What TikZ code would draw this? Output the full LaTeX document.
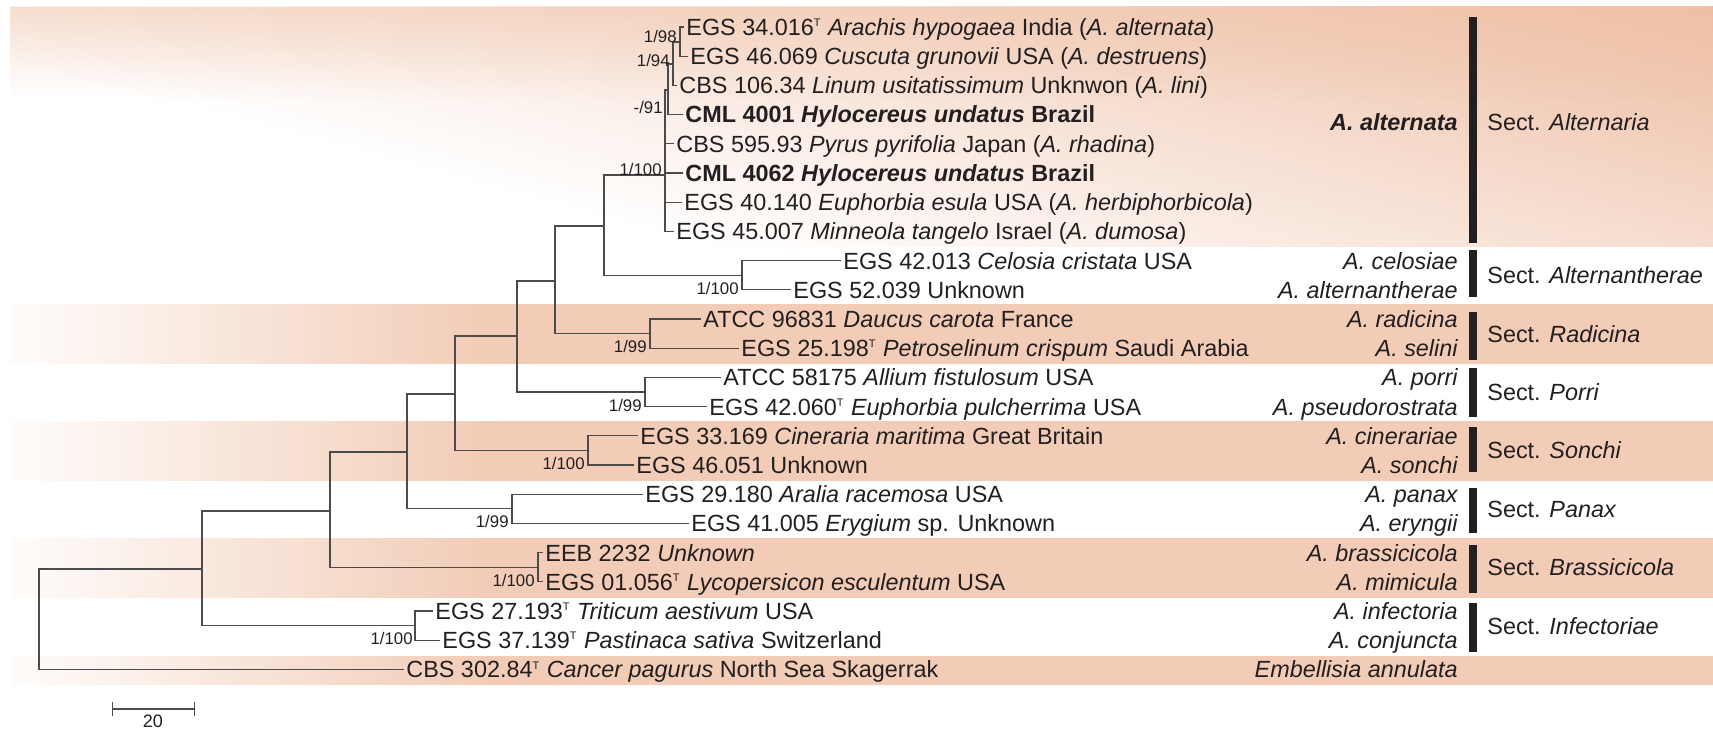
\documentclass[tikz,border=0pt]{standalone}
\usepackage{fontspec}
\setmainfont{Liberation Sans}
\usetikzlibrary{fadings}

\definecolor{peach}{RGB}{240,196,170}
\definecolor{peachdeep}{RGB}{238,189,162}
\definecolor{bandpeach}{RGB}{242,204,182}
\definecolor{treegray}{RGB}{75,75,75}
\definecolor{inkdark}{RGB}{35,31,32}
\tikzfading[name=topfade, top color=transparent!0, bottom color=transparent!100]
\pgfdeclarehorizontalshading{bandfade}{100bp}{color(0bp)=(bandpeach!5!white); color(25bp)=(bandpeach!5!white); color(39bp)=(bandpeach); color(100bp)=(bandpeach)}
\newcommand{\tstrain}{\textsuperscript{\fontsize{5.5}{6}\selectfont T}}

\begin{document}
\begin{tikzpicture}[
    x=0.5pt, y=-0.5pt,
    leaf/.style={anchor=west, inner sep=1pt, text=inkdark, font=\fontsize{11.7}{13}\selectfont, text height=8.4pt, text depth=0pt},
    boot/.style={anchor=east, inner sep=0pt, text=inkdark, font=\fontsize{8.4}{9}\selectfont},
    spname/.style={anchor=east, inner sep=0pt, text=inkdark, font=\fontsize{11.7}{13}\selectfont\itshape, text height=8.4pt, text depth=0pt},
    sectname/.style={anchor=west, inner sep=0pt, text=inkdark, font=\fontsize{11.7}{13}\selectfont, text height=8.4pt, text depth=0pt},
    branch/.style={draw=treegray, line width=0.65pt},
    sectbar/.style={draw=inkdark, line width=4.3pt},
    bandtone/.style={shading=bandfade}
]
    \useasboundingbox (0,0) rectangle (1713,733);

    % background bands
    \begin{scope}
        \clip (11,7) rectangle (1713,246);
        \begin{scope}[transform canvas={rotate around={-15:(11,246)}}]
            \shade[top color=peachdeep, bottom color=white] (-70,66) rectangle (1690,-429);
        \end{scope}
    \end{scope}
    \fill[peach, fill opacity=0.5, path fading=topfade] (11,7) rectangle (1713,100);
    \shade[bandtone] (11,304) rectangle (1713,363);
    \shade[bandtone] (11,421) rectangle (1713,480);
    \shade[bandtone] (11,538) rectangle (1713,597);
    \shade[bandtone] (11,656) rectangle (1713,684);

    % inner nodes of the tree
    \coordinate (root) at (39,619);
    \coordinate (nB) at (202,569);
    \coordinate (nInf) at (415,625.6);
    \coordinate (nC) at (330,511);
    \coordinate (nBra) at (538,567.2);
    \coordinate (nD) at (407,452);
    \coordinate (nPan) at (512,508.8);
    \coordinate (nE) at (455,394);
    \coordinate (nSon) at (588,450.4);
    \coordinate (nF) at (517,336);
    \coordinate (nPor) at (645,392);
    \coordinate (nG) at (555,281);
    \coordinate (nRad) at (650,333.6);
    \coordinate (nH) at (604,226);
    \coordinate (nAlh) at (742,275.2);
    \coordinate (nAlt) at (665,175);
    \coordinate (n91) at (668,90);
    \coordinate (n94) at (673,64);
    \coordinate (n98) at (680,42);

    % strains
    \node[leaf] (alt1) at (684,27) {EGS 34.016\tstrain\ \textit{Arachis hypogaea} India (\textit{A. alternata})};
    \node[leaf] (alt2) at (688,56.2) {EGS 46.069 \textit{Cuscuta grunovii} USA (\textit{A. destruens})};
    \node[leaf] (alt3) at (677,85.4) {CBS 106.34 \textit{Linum usitatissimum} Unknwon (\textit{A. lini})};
    \node[leaf] (alt4) at (683,114.6) {\textbf{CML 4001 \textit{Hylocereus undatus} Brazil}};
    \node[leaf] (alt5) at (674,143.8) {CBS 595.93 \textit{Pyrus pyrifolia} Japan (\textit{A. rhadina})};
    \node[leaf] (alt6) at (683,173) {\textbf{CML 4062 \textit{Hylocereus undatus} Brazil}};
    \node[leaf] (alt7) at (682,202.2) {EGS 40.140 \textit{Euphorbia esula} USA (\textit{A. herbiphorbicola})};
    \node[leaf] (alt8) at (674,231.4) {EGS 45.007 \textit{Minneola tangelo} Israel (\textit{A. dumosa})};
    \node[leaf] (alh1) at (841,260.6) {EGS 42.013 \textit{Celosia cristata} USA};
    \node[leaf] (alh2) at (791,289.8) {EGS 52.039 Unknown};
    \node[leaf] (rad1) at (701,319) {ATCC 96831 \textit{Daucus carota} France};
    \node[leaf] (rad2) at (739,348.2) {EGS 25.198\tstrain\ \textit{Petroselinum crispum} Saudi Arabia};
    \node[leaf] (por1) at (721,377.4) {ATCC 58175 \textit{Allium fistulosum} USA};
    \node[leaf] (por2) at (707,406.6) {EGS 42.060\tstrain\ \textit{Euphorbia pulcherrima} USA};
    \node[leaf] (son1) at (638,435.8) {EGS 33.169 \textit{Cineraria maritima} Great Britain};
    \node[leaf] (son2) at (634,465) {EGS 46.051 Unknown};
    \node[leaf] (pan1) at (643,494.2) {EGS 29.180 \textit{Aralia racemosa} USA};
    \node[leaf] (pan2) at (689,523.4) {EGS 41.005 \textit{Erygium} sp. Unknown};
    \node[leaf] (bra1) at (543,552.6) {EEB 2232 \textit{Unknown}};
    \node[leaf] (bra2) at (543,581.8) {EGS 01.056\tstrain\ \textit{Lycopersicon esculentum} USA};
    \node[leaf] (inf1) at (433,611) {EGS 27.193\tstrain\ \textit{Triticum aestivum} USA};
    \node[leaf] (inf2) at (440,640.2) {EGS 37.139\tstrain\ \textit{Pastinaca sativa} Switzerland};
    \node[leaf] (emb) at (404,669.4) {CBS 302.84\tstrain\ \textit{Cancer pagurus} North Sea Skagerrak};

    % branches
    \draw[branch] (root) |- (nB);
    \draw[branch] (root) |- (emb.west);
    \draw[branch] (nB) |- (nC);
    \draw[branch] (nB) |- (nInf);
    \draw[branch] (nInf) |- (inf1.west);
    \draw[branch] (nInf) |- (inf2.west);
    \draw[branch] (nC) |- (nD);
    \draw[branch] (nC) |- (nBra);
    \draw[branch] (nBra) |- (bra1.west);
    \draw[branch] (nBra) |- (bra2.west);
    \draw[branch] (nD) |- (nE);
    \draw[branch] (nD) |- (nPan);
    \draw[branch] (nPan) |- (pan1.west);
    \draw[branch] (nPan) |- (pan2.west);
    \draw[branch] (nE) |- (nF);
    \draw[branch] (nE) |- (nSon);
    \draw[branch] (nSon) |- (son1.west);
    \draw[branch] (nSon) |- (son2.west);
    \draw[branch] (nF) |- (nG);
    \draw[branch] (nF) |- (nPor);
    \draw[branch] (nPor) |- (por1.west);
    \draw[branch] (nPor) |- (por2.west);
    \draw[branch] (nG) |- (nH);
    \draw[branch] (nG) |- (nRad);
    \draw[branch] (nRad) |- (rad1.west);
    \draw[branch] (nRad) |- (rad2.west);
    \draw[branch] (nH) |- (nAlt);
    \draw[branch] (nH) |- (nAlh);
    \draw[branch] (nAlh) |- (alh1.west);
    \draw[branch] (nAlh) |- (alh2.west);
    \draw[branch] (nAlt) |- (n91);
    \draw[branch] (nAlt) |- (alt5.west);
    \draw[branch] (nAlt) |- (alt6.west);
    \draw[branch] (nAlt) |- (alt7.west);
    \draw[branch] (nAlt) |- (alt8.west);
    \draw[branch] (n91) |- (n94);
    \draw[branch] (n91) |- (alt4.west);
    \draw[branch] (n94) |- (n98);
    \draw[branch] (n94) |- (alt3.west);
    \draw[branch] (n98) |- (alt1.west);
    \draw[branch] (n98) |- (alt2.west);

    % support values
    \node[boot] (b98) at (677,36) {1/98};
    \node[boot] (b94) at (670,60) {1/94};
    \node[boot] (b91) at (663,107) {-/91};
    \node[boot] (bAlt) at (662,169) {1/100};
    \node[boot] (bAlh) at (739,288) {1/100};
    \node[boot] (bRad) at (647,346) {1/99};
    \node[boot] (bPor) at (642,405) {1/99};
    \node[boot] (bSon) at (585,463) {1/100};
    \node[boot] (bPan) at (509,521) {1/99};
    \node[boot] (bBra) at (535,580) {1/100};
    \node[boot] (bInf) at (413,638) {1/100};

    % species names
    \node[spname] (spAlt) at (1458,122) {\textbf{A. alternata}};
    \node[spname] (spCel) at (1458,260.6) {A. celosiae};
    \node[spname] (spAlh) at (1458,289.8) {A. alternantherae};
    \node[spname] (spRad) at (1458,319) {A. radicina};
    \node[spname] (spSel) at (1458,348.2) {A. selini};
    \node[spname] (spPor) at (1458,377.4) {A. porri};
    \node[spname] (spPse) at (1458,406.6) {A. pseudorostrata};
    \node[spname] (spCin) at (1458,435.8) {A. cinerariae};
    \node[spname] (spSon) at (1458,465) {A. sonchi};
    \node[spname] (spPan) at (1458,494.2) {A. panax};
    \node[spname] (spEry) at (1458,523.4) {A. eryngii};
    \node[spname] (spBra) at (1458,552.6) {A. brassicicola};
    \node[spname] (spMim) at (1458,581.8) {A. mimicula};
    \node[spname] (spInf) at (1458,611) {A. infectoria};
    \node[spname] (spCon) at (1458,640.2) {A. conjuncta};
    \node[spname] (spEmb) at (1458,669.4) {Embellisia annulata};

    % sections
    \draw[sectbar] (1473,17) -- (1473,243);
    \draw[sectbar] (1473,250) -- (1473,297);
    \draw[sectbar] (1473,312) -- (1473,360);
    \draw[sectbar] (1473,368) -- (1473,417);
    \draw[sectbar] (1473,427) -- (1473,472);
    \draw[sectbar] (1473,488) -- (1473,533);
    \draw[sectbar] (1473,545) -- (1473,593);
    \draw[sectbar] (1473,603) -- (1473,652);
    \node[sectname] (secAlt) at (1487,122) {Sect. \textit{Alternaria}};
    \node[sectname] (secAlh) at (1487,275) {Sect. \textit{Alternantherae}};
    \node[sectname] (secRad) at (1487,334) {Sect. \textit{Radicina}};
    \node[sectname] (secPor) at (1487,392) {Sect. \textit{Porri}};
    \node[sectname] (secSon) at (1487,450) {Sect. \textit{Sonchi}};
    \node[sectname] (secPan) at (1487,509) {Sect. \textit{Panax}};
    \node[sectname] (secBra) at (1487,567) {Sect. \textit{Brassicicola}};
    \node[sectname] (secInf) at (1487,626) {Sect. \textit{Infectoriae}};

    % scale bar
    \coordinate (sbL) at (112,709);
    \coordinate (sbR) at (195,709);
    \draw[branch, |-|] (sbL) -- (sbR);
    \node[text=inkdark, font=\fontsize{9}{10}\selectfont, inner sep=0pt] (sbText) at (153,721) {20};
\end{tikzpicture}
\end{document}
